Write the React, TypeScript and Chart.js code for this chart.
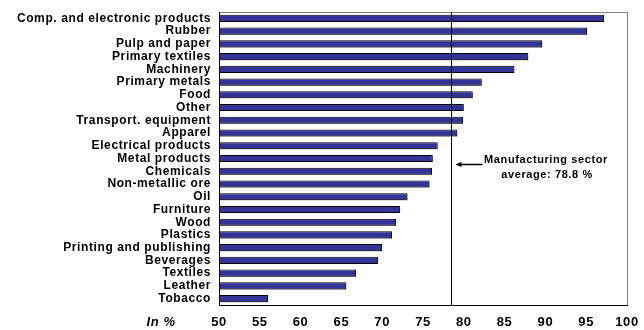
import React, { useEffect, useRef } from "react";
import { Chart, registerables } from "chart.js";

Chart.register(...registerables);

const categories = [
  "Comp. and electronic products",
  "Rubber",
  "Pulp and paper",
  "Primary textiles",
  "Machinery",
  "Primary metals",
  "Food",
  "Other",
  "Transport. equipment",
  "Apparel",
  "Electrical products",
  "Metal products",
  "Chemicals",
  "Non-metallic ore",
  "Oil",
  "Furniture",
  "Wood",
  "Plastics",
  "Printing and publishing",
  "Beverages",
  "Textiles",
  "Leather",
  "Tobacco",
];

const values = [
  97.2, 95.1, 89.6, 87.9, 86.2, 82.2, 81.1, 80.0, 79.9, 79.2, 76.8, 76.2, 76.1,
  75.8, 73.1, 72.2, 71.7, 71.2, 70.0, 69.5, 66.8, 65.6, 56.0,
];

const xTicks = [50, 55, 60, 65, 70, 75, 80, 85, 90, 95, 100];
const averageLine = 78.4;
const annotationLines = ["Manufacturing sector", "average: 78.8 %"];
const axisUnit = "In %";

const FONT = "'Liberation Sans', Arial, sans-serif";

export default function App() {
  const ref = useRef<HTMLCanvasElement | null>(null);

  useEffect(() => {
    const canvas = ref.current;
    if (!canvas) return;

    const overlay = {
      id: "overlay",
      beforeInit(chart: any) {
        (chart.ctx as any).letterSpacing = "0.6px";
      },
      beforeDraw(chart: any) {
        (chart.ctx as any).letterSpacing = "0.6px";
      },
      beforeDatasetsDraw(chart: any) {
        const ctx = chart.ctx;
        ctx.save();
        ctx.shadowColor = "rgba(0,0,0,0.35)";
        ctx.shadowOffsetX = 1;
        ctx.shadowOffsetY = 1.5;
        ctx.shadowBlur = 0;
      },
      afterDatasetsDraw(chart: any) {
        chart.ctx.restore();
      },
      afterDraw(chart: any) {
        const ctx = chart.ctx;
        const { left, right, top, bottom } = chart.chartArea;
        const x = chart.scales.x;
        ctx.save();
        ctx.strokeStyle = "#808080";
        ctx.lineWidth = 1;
        ctx.beginPath();
        ctx.moveTo(left, top + 0.5);
        ctx.lineTo(right + 0.5, top + 0.5);
        ctx.lineTo(right + 0.5, bottom);
        ctx.stroke();
        ctx.strokeStyle = "#000";
        ctx.beginPath();
        ctx.moveTo(left + 0.5, top);
        ctx.lineTo(left + 0.5, bottom + 0.5);
        ctx.lineTo(right + 1, bottom + 0.5);
        ctx.stroke();
        const ax = Math.round(x.getPixelForValue(averageLine)) + 0.5;
        ctx.beginPath();
        ctx.moveTo(ax, top);
        ctx.lineTo(ax, bottom);
        ctx.stroke();
        const ay = 164.5;
        ctx.lineWidth = 1.5;
        ctx.beginPath();
        ctx.moveTo(ax + 7, ay);
        ctx.lineTo(ax + 31, ay);
        ctx.stroke();
        ctx.fillStyle = "#000";
        ctx.beginPath();
        ctx.moveTo(ax + 4, ay);
        ctx.lineTo(ax + 10, ay - 2.5);
        ctx.lineTo(ax + 10, ay + 2.5);
        ctx.closePath();
        ctx.fill();
        ctx.font = `bold 11px ${FONT}`;
        ctx.textAlign = "center";
        ctx.textBaseline = "middle";
        (ctx as any).letterSpacing = "0.6px";
        ctx.fillText(annotationLines[0], 546, 160);
        ctx.fillText(annotationLines[1], 547, 175);
        ctx.font = `italic bold 13px ${FONT}`;
        ctx.fillText(axisUnit, 161, 322);
        ctx.restore();
      },
    };

    const chart = new Chart(canvas, {
      type: "bar",
      data: {
        labels: categories,
        datasets: [
          {
            data: values,
            backgroundColor: "#333399",
            borderColor: "#000000",
            borderWidth: 1,
            barPercentage: 0.56,
            categoryPercentage: 1,
            base: 50,
          },
        ],
      },
      options: {
        indexAxis: "y",
        animation: false,
        responsive: false,
        maintainAspectRatio: false,
        layout: { padding: { top: 12, right: 17, left: 0, bottom: 0 } },
        plugins: {
          legend: { display: false },
          tooltip: { enabled: false },
        },
        scales: {
          x: {
            min: 50,
            max: 100,
            afterBuildTicks(scale: any) {
              scale.ticks = xTicks.map((v) => ({ value: v }));
            },
            afterFit(scale: any) {
              scale.height = 25;
              scale.paddingLeft = 0;
              scale.paddingRight = 0;
            },
            grid: { display: false, drawTicks: false },
            border: { display: false },
            ticks: {
              padding: 10,
              color: "#000",
              font: { family: FONT, size: 13, weight: "bold" },
              maxRotation: 0,
              autoSkip: false,
            },
          },
          y: {
            afterFit(scale: any) {
              scale.width = 219;
              scale.paddingTop = 0;
              scale.paddingBottom = 0;
            },
            grid: { display: false, drawTicks: false },
            border: { display: false },
            ticks: {
              padding: 8,
              color: "#000",
              autoSkip: false,
              font: { family: FONT, size: 12, weight: "bold" },
            },
          },
        },
      },
      plugins: [overlay],
    });

    return () => chart.destroy();
  }, []);

  return (
    <div style={{ position: "fixed", left: 0, top: 0, width: 644, height: 330, background: "#fff" }}>
      <canvas ref={ref} width={644} height={330} style={{ width: 644, height: 330 }} />
    </div>
  );
}
